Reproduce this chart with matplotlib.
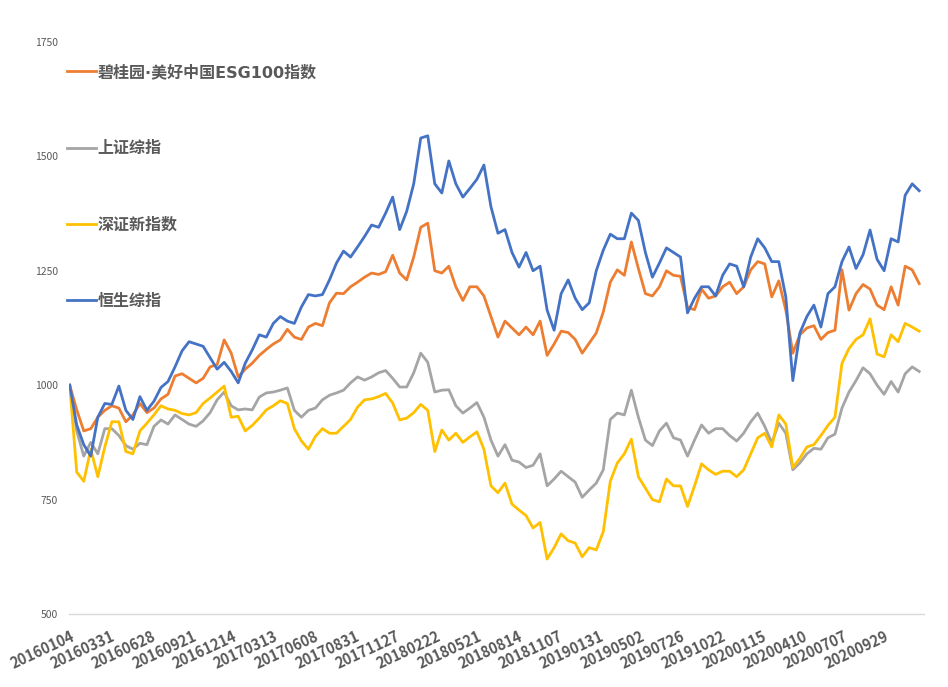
import matplotlib
matplotlib.use('Agg')
import matplotlib.pyplot as plt
import numpy as np

plt.rcParams['font.family'] = ['Noto Sans CJK SC', 'DejaVu Sans']

# 交易日序号 (每10个交易日取一个点)
days = np.arange(0, 1220, 10)

tick_labels = ['20160104', '20160331', '20160628', '20160921', '20161214',
               '20170313', '20170608', '20170831', '20171127', '20180222',
               '20180521', '20180814', '20181107', '20190131', '20190502',
               '20190726', '20191022', '20200115', '20200410', '20200707',
               '20200929']
tick_days = [58 * i for i in range(len(tick_labels))]

names = ['碧桂园·美好中国ESG100指数', '上证综指', '深证新指数', '恒生综指']

esg100 = [1000, 946, 900, 905, 930, 945, 955, 950, 920, 935,
          960, 940, 950, 970, 980, 1020, 1025, 1015, 1005, 1015,
          1040, 1045, 1099, 1070, 1018, 1035, 1048, 1065, 1078, 1090,
          1099, 1122, 1105, 1100, 1127, 1135, 1130, 1180, 1201, 1200,
          1215, 1225, 1236, 1245, 1242, 1248, 1284, 1245, 1230, 1280,
          1345, 1354, 1250, 1245, 1260, 1215, 1185, 1215, 1215, 1195,
          1150, 1105, 1140, 1125, 1110, 1127, 1110, 1140, 1065, 1090,
          1118, 1115, 1100, 1070, 1092, 1114, 1160, 1225, 1252, 1240,
          1313, 1255, 1200, 1195, 1215, 1250, 1240, 1238, 1170, 1165,
          1210, 1190, 1195, 1215, 1225, 1200, 1215, 1252, 1270, 1265,
          1193, 1228, 1164, 1070, 1110, 1125, 1130, 1100, 1115, 1120,
          1252, 1164, 1200, 1220, 1210, 1175, 1165, 1215, 1175, 1260,
          1252, 1222]

sh_comp = [1000, 900, 845, 875, 850, 905, 905, 890, 868, 860,
           873, 870, 910, 924, 915, 935, 925, 915, 910, 922,
           940, 968, 985, 955, 946, 948, 946, 974, 983, 985,
           989, 994, 945, 930, 945, 950, 968, 978, 983, 989,
           1005, 1018, 1011, 1018, 1027, 1032, 1015, 996, 996, 1027,
           1070, 1050, 985, 989, 990, 955, 939, 950, 962, 930,
           880, 845, 870, 836, 832, 820, 825, 850, 780, 795,
           812, 800, 788, 755, 771, 786, 815, 925, 939, 935,
           989, 930, 880, 868, 900, 917, 885, 880, 845, 880,
           913, 895, 905, 905, 890, 878, 895, 920, 939, 910,
           874, 917, 895, 815, 830, 850, 862, 860, 885, 893,
           950, 985, 1010, 1038, 1025, 1000, 980, 1008, 985, 1025,
           1040, 1030]

sz_new = [1000, 810, 790, 860, 800, 865, 920, 920, 855, 850,
          900, 917, 935, 955, 948, 945, 938, 935, 940, 960,
          972, 985, 998, 930, 932, 900, 912, 928, 946, 955,
          966, 960, 905, 878, 860, 888, 905, 895, 895, 910,
          925, 952, 968, 970, 975, 982, 961, 924, 928, 940,
          958, 945, 855, 902, 880, 895, 875, 887, 898, 860,
          780, 765, 786, 740, 727, 715, 688, 700, 620, 645,
          675, 660, 655, 625, 645, 640, 680, 790, 830, 850,
          882, 800, 775, 750, 745, 795, 780, 780, 735, 780,
          828, 815, 805, 812, 812, 800, 815, 850, 885, 895,
          865, 935, 915, 820, 840, 865, 870, 890, 912, 930,
          1048, 1080, 1100, 1110, 1145, 1068, 1062, 1110, 1095, 1135,
          1127, 1118]

hs_comp = [1000, 913, 870, 845, 930, 960, 958, 998, 945, 925,
           975, 945, 965, 995, 1008, 1040, 1075, 1095, 1090, 1085,
           1060, 1035, 1050, 1030, 1005, 1048, 1077, 1110, 1105, 1135,
           1150, 1140, 1135, 1171, 1198, 1195, 1198, 1230, 1267, 1293,
           1280, 1302, 1325, 1350, 1345, 1376, 1411, 1340, 1380, 1440,
           1540, 1545, 1440, 1420, 1490, 1440, 1411, 1430, 1450, 1481,
           1390, 1332, 1340, 1290, 1258, 1290, 1250, 1260, 1164, 1120,
           1200, 1230, 1190, 1165, 1180, 1250, 1295, 1330, 1320, 1320,
           1376, 1360, 1290, 1236, 1267, 1300, 1290, 1280, 1158, 1190,
           1215, 1215, 1195, 1240, 1265, 1260, 1215, 1280, 1320, 1300,
           1270, 1270, 1193, 1010, 1114, 1150, 1175, 1127, 1200, 1215,
           1270, 1302, 1255, 1285, 1339, 1275, 1250, 1320, 1313, 1415,
           1440, 1425]

colors = ['#ED7D31', '#A5A5A5', '#FFC000', '#4472C4']

fig = plt.figure(figsize=(9.48, 6.87), dpi=100)
ax = fig.add_axes([0.0728, 0.1063, 0.902, 0.8326])

for vals, name, c in zip([esg100, sh_comp, sz_new, hs_comp], names, colors):
    ax.plot(days, vals, color=c, lw=2.0, label=name)

ax.set_ylim(500, 1750)
ax.set_xlim(-1, 1217)
ax.set_yticks([500, 750, 1000, 1250, 1500, 1750])
ax.tick_params(axis='y', length=0, labelsize=7.5, labelcolor='#595959', pad=8)
ax.set_xticks(tick_days)
ax.set_xticklabels(tick_labels, rotation=25, ha='right', va='top',
                   rotation_mode='anchor', fontweight='bold')
ax.tick_params(axis='x', length=0, labelsize=10.5, labelcolor='#595959', pad=10)

for s in ['top', 'right', 'left']:
    ax.spines[s].set_visible(False)
ax.spines['bottom'].set_color('#D9D9D9')
ax.spines['bottom'].set_linewidth(1.0)

leg = fig.legend(loc='upper left', bbox_to_anchor=(0.062, 0.918),
                 frameon=False, labelspacing=3.82, handlelength=1.8,
                 handletextpad=0.12, borderpad=0,
                 prop={'family': ['DejaVu Sans', 'Noto Sans CJK SC'],
                       'size': 11.5, 'weight': 'bold'})
for t in leg.get_texts():
    t.set_color('#595959')

plt.savefig('out.png', dpi=100)
